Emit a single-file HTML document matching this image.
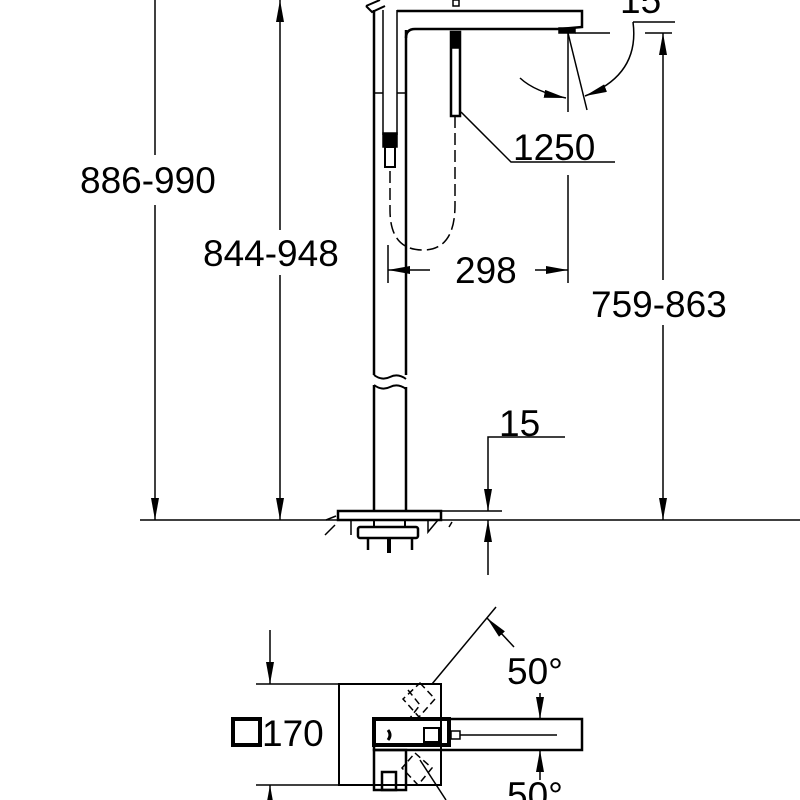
<!DOCTYPE html>
<html><head><meta charset="utf-8"><style>
html,body{margin:0;padding:0;background:#fff;}
svg{display:block;}
text{font-family:"Liberation Sans",sans-serif;font-size:37px;fill:#000;}
</style></head><body>
<svg width="800" height="800" viewBox="0 0 800 800" xmlns="http://www.w3.org/2000/svg">
<defs>
<marker id="a" viewBox="0 0 10 10" refX="10" refY="5" markerWidth="22" markerHeight="8" markerUnits="userSpaceOnUse" orient="auto-start-reverse" preserveAspectRatio="none"><path d="M0,0 L10,5 L0,10z" fill="#000"/></marker>
</defs>
<g stroke="#000" stroke-width="1.5" fill="none">
<line x1="140" y1="520" x2="800" y2="520"/>
<line x1="155" y1="0" x2="155" y2="155"/>
<line x1="155" y1="205" x2="155" y2="520" marker-end="url(#a)"/>
<line x1="280" y1="230" x2="280" y2="0" marker-end="url(#a)"/>
<line x1="280" y1="275" x2="280" y2="520" marker-end="url(#a)"/>
<line x1="645" y1="33" x2="672" y2="33"/>
<line x1="663" y1="280" x2="663" y2="33" marker-end="url(#a)"/>
<line x1="663" y1="325" x2="663" y2="520" marker-end="url(#a)"/>
<line x1="374" y1="10" x2="374" y2="375" stroke-width="2.5"/>
<line x1="406" y1="30" x2="406" y2="375" stroke-width="2.5"/>
<line x1="383" y1="10" x2="383" y2="135"/>
<line x1="397" y1="10" x2="397" y2="135"/>
<line x1="374" y1="93" x2="383" y2="93"/>
<line x1="397" y1="93" x2="406" y2="93"/>
<rect x="383" y="133" width="14" height="14" fill="#000"/>
<rect x="385" y="147" width="10" height="20" fill="#fff" stroke-width="2"/>
<path d="M374,375 q8,6 16,2 q8,-4 16,2" stroke-width="2"/>
<path d="M374,385 q8,6 16,2 q8,-4 16,2" stroke-width="2"/>
<line x1="374" y1="385" x2="374" y2="511" stroke-width="2.5"/>
<line x1="406" y1="387" x2="406" y2="511" stroke-width="2.5"/>
<path d="M397,11 L582,11 L582,27 L560,29 L415,29 Q406,29 406,38" stroke-width="2.5"/>
<rect x="559" y="28" width="16" height="5" fill="#000"/>
<path d="M366,6 L380,0 M366,6 L372,12 L385,6" stroke-width="2"/>
<line x1="575" y1="33" x2="610" y2="33"/>
<rect x="451" y="32" width="9" height="84" stroke-width="2.5"/>
<rect x="451" y="32" width="9" height="16" fill="#000"/>
<rect x="453" y="0" width="6" height="6"/>
<path d="M455,116 L455,205 Q455,250 423,250 Q390,250 390,210 L390,170" stroke-dasharray="12,5"/>
<polyline points="461,112 511,162 615,162"/>
<line x1="568" y1="33" x2="568" y2="112"/>
<line x1="568" y1="175" x2="568" y2="283"/>
<line x1="568" y1="33" x2="587" y2="110"/>
<path d="M520,78 Q535,92 566,98" marker-end="url(#a)"/>
<path d="M633,22 Q640,75 585,96" marker-end="url(#a)"/>
<line x1="633" y1="22" x2="675" y2="22"/>
<line x1="388" y1="245" x2="388" y2="283"/>
<line x1="430" y1="270" x2="388" y2="270" marker-end="url(#a)"/>
<line x1="535" y1="270" x2="568" y2="270" marker-end="url(#a)"/>
<rect x="338" y="511" width="103" height="9" stroke-width="2.5"/>
<rect x="374" y="520" width="31" height="7" stroke-width="2"/>
<rect x="358" y="527" width="60" height="11" rx="2" stroke-width="2.5"/>
<line x1="368" y1="538" x2="368" y2="550" stroke-width="2.5"/>
<line x1="389" y1="538" x2="389" y2="553" stroke-width="4"/>
<line x1="412" y1="538" x2="412" y2="550" stroke-width="2.5"/>
<line x1="351" y1="520" x2="351" y2="535"/>
<path d="M326,520 l10,-4 M335,525 l-10,10 M428,520 l0,12 l10,-12 M452,522 l-3,5"/>
<line x1="441" y1="511" x2="502" y2="511"/>
<polyline points="565,437 488,437 488,511" marker-end="url(#a)"/>
<line x1="488" y1="575" x2="488" y2="520" marker-end="url(#a)"/>
<rect x="339" y="684" width="102" height="101" stroke-width="2"/>
<line x1="256" y1="684" x2="339" y2="684"/>
<line x1="256" y1="785" x2="339" y2="785"/>
<line x1="270" y1="630" x2="270" y2="684" marker-end="url(#a)"/>
<line x1="270" y1="800" x2="270" y2="785" marker-end="url(#a)"/>
<rect x="374" y="719" width="208" height="31" stroke-width="2.5"/>
<rect x="374" y="719" width="75" height="26" stroke-width="4"/>
<rect x="424" y="728" width="15" height="14" stroke-width="2"/>
<rect x="451" y="731" width="9" height="8"/>
<line x1="460" y1="735" x2="557" y2="735"/>
<path d="M388,730 q4,5 0,10" stroke-width="3"/>
<rect x="374" y="750" width="32" height="40" stroke-width="2.5"/>
<rect x="382" y="772" width="14" height="18" stroke-width="2.5"/>
<line x1="406" y1="750" x2="406" y2="785"/>
<line x1="432" y1="684" x2="496" y2="607"/>
<line x1="514" y1="647" x2="487" y2="618" marker-end="url(#a)"/>
<g stroke-dasharray="7,4">
<path d="M420,683 L435,699 L419,717 L403,699z"/>
<path d="M408,690 L420,705 L410,718"/>
<path d="M415,753 L432,768 L418,785 L402,768z"/>
</g>
<line x1="420" y1="760" x2="446" y2="800"/>
<line x1="540" y1="693" x2="540" y2="719" marker-end="url(#a)"/>
<line x1="540" y1="780" x2="540" y2="750" marker-end="url(#a)"/>
<rect x="233" y="719" width="27" height="26" stroke-width="4"/>
</g>
<text x="80" y="193">886-990</text>
<text x="203" y="266">844-948</text>
<text x="591" y="317">759-863</text>
<text x="513" y="160">1250</text>
<text x="455" y="283">298</text>
<text x="620" y="13">15</text>
<text x="499" y="436">15</text>
<text x="262" y="746">170</text>
<text x="507" y="684">50°</text>
<text x="507" y="808">50°</text>
</svg>
</body></html>
